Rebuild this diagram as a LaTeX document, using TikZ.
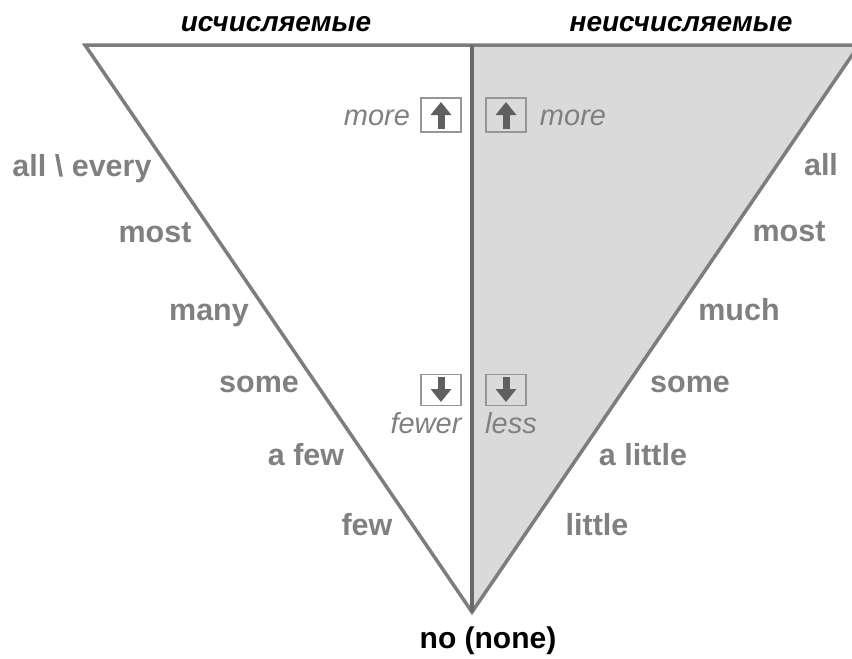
\documentclass[tikz,border=0pt]{standalone}
\usepackage{fontspec}
\setmainfont{Liberation Sans}
\usetikzlibrary{arrows.meta}
\definecolor{lblgray}{RGB}{128,128,128}
\definecolor{edgegray}{RGB}{125,125,125}
\definecolor{midgray}{RGB}{105,105,105}
\definecolor{fillgray}{RGB}{218,218,218}
\definecolor{arrgray}{RGB}{95,95,95}
\definecolor{boxgray}{RGB}{150,150,150}
\tikzset{
  lbl/.style={anchor=base, inner sep=0pt, text=lblgray, font=\fontsize{30.5}{32}\selectfont\bfseries},
  head/.style={anchor=base, inner sep=0pt, text=black, font=\fontsize{28}{32}\selectfont\bfseries\itshape},
  cmp/.style={anchor=base, inner sep=0pt, text=lblgray, font=\fontsize{29}{32}\selectfont\itshape},
  arrbox/.style={draw=boxgray, line width=1.2pt, minimum width=40pt, minimum height=34pt, inner sep=0pt},
  edge/.style={draw=edgegray, line width=3.5pt},
  bigarrow/.style={arrgray, line width=7pt, -{Triangle[width=20pt,length=13pt]}},
}
\begin{document}
\begin{tikzpicture}[x=1pt,y=-1pt]
\useasboundingbox (0,0) rectangle (852,659);
\begin{scope}
\clip (0,0) rectangle (852,659);
\coordinate (TL) at (85,45);
\coordinate (TM) at (472,45);
\coordinate (TR) at (859,45);
\coordinate (AP) at (472,612);
\fill[fillgray] (TM) -- (TR) -- (AP) -- cycle;
\draw[edge, line join=miter] (AP) -- (TL) -- (TR) -- cycle;
\draw[draw=midgray, line width=4pt] (TM) -- (AP);
\end{scope}
% headings
\node[head] (h1) at (276,31) {исчисляемые};
\node[head] (h2) at (681,31) {неисчисляемые};
\node[anchor=base, inner sep=0pt, font=\fontsize{30}{32}\selectfont\bfseries] (none) at (488,648) {no (none)};
% left labels
\node[lbl] (l1) at (82,176) {all \textbackslash{} every};
\node[lbl] (l2) at (155,242) {most};
\node[lbl] (l3) at (209,320) {many};
\node[lbl] (l4) at (259,392) {some};
\node[lbl] (l5) at (306,465) {a few};
\node[lbl] (l6) at (367,535) {few};
% right labels
\node[lbl] (r1) at (821,175) {all};
\node[lbl] (r2) at (789,241) {most};
\node[lbl] (r3) at (739,320) {much};
\node[lbl] (r4) at (690,392) {some};
\node[lbl] (r5) at (643,465) {a little};
\node[lbl] (r6) at (597,535) {little};
% comparatives
\node[cmp] (m1) at (377,125) {more};
\node[cmp] (m2) at (573,125) {more};
\node[cmp] (f1) at (426,433) {fewer};
\node[cmp] (f2) at (511,433) {less};
% boxes
\node[arrbox, fill=white] (b1) at (441,115) {};
\node[arrbox] (b2) at (506,115) {};
\node[arrbox, fill=white, minimum height=31pt] (b3) at (441,390) {};
\node[arrbox, minimum height=31pt] (b4) at (506,390) {};
\foreach \b in {b1,b2} {
  \draw[bigarrow] ([yshift=-14pt]\b.center) -- ([yshift=13pt]\b.center);
}
\foreach \b in {b3,b4} {
  \draw[bigarrow] ([yshift=13pt]\b.center) -- ([yshift=-12pt]\b.center);
}
\end{tikzpicture}
\end{document}
